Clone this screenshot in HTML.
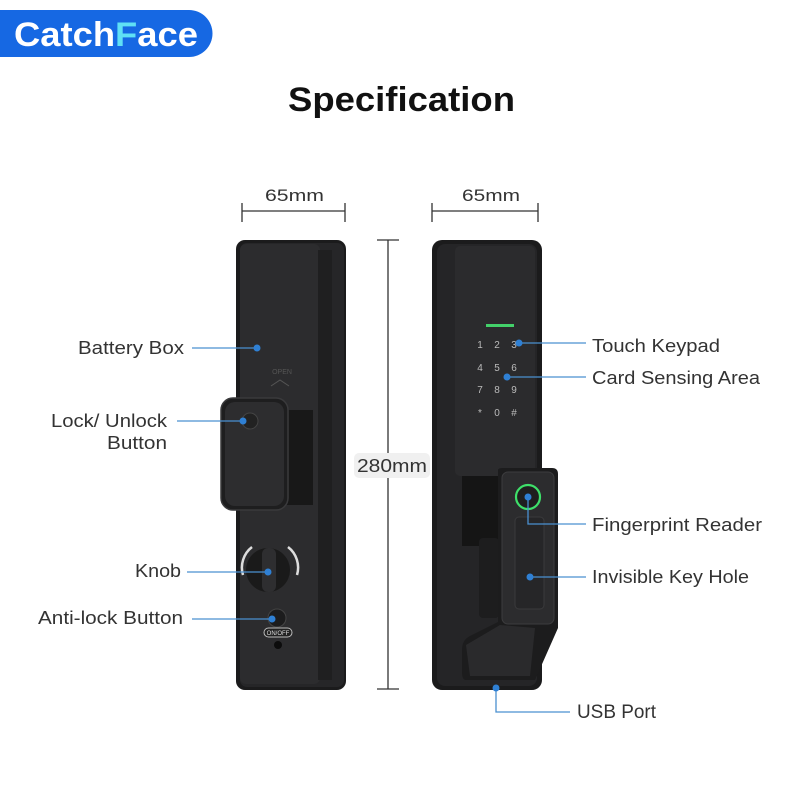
<!DOCTYPE html>
<html><head><meta charset="utf-8"><style>
html,body{margin:0;padding:0;background:#fff;}
svg{display:block;}
text{font-family:"Liberation Sans",sans-serif;}
</style></head><body>
<svg width="800" height="800" viewBox="0 0 800 800" xmlns="http://www.w3.org/2000/svg">
<rect width="800" height="800" fill="#fff"/>
<!-- logo -->
<path d="M0 10 H189 A23.5 23.5 0 0 1 189 57 H0 Z" fill="#1668e3"/>
<text x="14" y="46" font-size="34" font-weight="bold" fill="#fff" textLength="184" lengthAdjust="spacingAndGlyphs">Catch<tspan fill="#5fe0f5">F</tspan>ace</text>
<!-- title -->
<text x="288" y="111" font-size="34" font-weight="bold" fill="#111" textLength="227" lengthAdjust="spacingAndGlyphs">Specification</text>
<!-- dims -->
<g stroke="#333" stroke-width="1.3" fill="none">
<line x1="242" y1="211" x2="345" y2="211"/><line x1="242" y1="203" x2="242" y2="222"/><line x1="345" y1="203" x2="345" y2="222"/>
<line x1="432" y1="211" x2="538" y2="211"/><line x1="432" y1="203" x2="432" y2="222"/><line x1="538" y1="203" x2="538" y2="222"/>
<line x1="388" y1="240" x2="388" y2="689"/><line x1="377" y1="240" x2="399" y2="240"/><line x1="377" y1="689" x2="399" y2="689"/>
</g>
<text x="265" y="201" font-size="17" fill="#333" textLength="59" lengthAdjust="spacingAndGlyphs">65mm</text>
<text x="462" y="201" font-size="17" fill="#333" textLength="58" lengthAdjust="spacingAndGlyphs">65mm</text>
<rect x="354" y="453" width="76" height="25" rx="5" fill="#f0f0f0"/>
<text x="357" y="472" font-size="18" fill="#333" textLength="70" lengthAdjust="spacingAndGlyphs">280mm</text>

<!-- left lock -->
<rect x="236" y="240" width="110" height="450" rx="9" fill="#1b1b1c"/>
<rect x="240" y="243" width="104" height="444" rx="7" fill="#262628"/>
<rect x="240" y="244" width="80" height="440" rx="6" fill="#2c2c2e"/>
<rect x="318" y="250" width="14" height="430" fill="#1f1f20"/>
<text x="282" y="374" font-size="7" fill="#555" text-anchor="middle">OPEN</text>
<path d="M271 386 L280 380 L289 386" stroke="#555" fill="none"/>
<rect x="285" y="410" width="28" height="95" fill="#181818"/>
<rect x="221" y="398" width="67" height="112" rx="12" fill="#1e1e1f" stroke="#3a3a3c" stroke-width="1.5"/>
<rect x="225" y="402" width="59" height="104" rx="10" fill="#2d2d2f"/>
<circle cx="250" cy="421" r="8" fill="#222" stroke="#444"/>
<path d="M252 547 A26 26 0 0 0 243 575" stroke="#ddd" stroke-width="2.5" fill="none"/>
<path d="M288 547 A26 26 0 0 1 297 575" stroke="#ddd" stroke-width="2.5" fill="none"/>
<circle cx="268" cy="570" r="22" fill="#1a1a1a"/>
<rect x="262" y="548" width="14" height="44" rx="6" fill="#2e2e30"/>
<circle cx="277" cy="618" r="9" fill="#1c1c1d" stroke="#444"/>
<rect x="264" y="628" width="28" height="9" rx="4.5" fill="#222" stroke="#bbb" stroke-width="1"/>
<text x="278" y="635" font-size="6" fill="#ddd" text-anchor="middle">ON/OFF</text>
<circle cx="278" cy="645" r="4" fill="#0c0c0c"/>

<!-- right lock -->
<rect x="432" y="240" width="110" height="450" rx="10" fill="#1b1b1c"/>
<rect x="437" y="244" width="100" height="442" rx="8" fill="#252527"/>
<rect x="455" y="246" width="80" height="230" rx="5" fill="#2b2b2d"/>
<rect x="462" y="476" width="60" height="70" fill="#151515"/>
<rect x="479" y="538" width="20" height="80" rx="4" fill="#1d1d1e"/>
<rect x="486" y="324" width="28" height="3" fill="#43d16a"/>
<g font-size="10" fill="#bbb" text-anchor="middle" font-family="Liberation Mono,monospace">
<text x="480" y="348">1</text><text x="497" y="348">2</text><text x="514" y="348">3</text>
<text x="480" y="371">4</text><text x="497" y="371">5</text><text x="514" y="371">6</text>
<text x="480" y="393">7</text><text x="497" y="393">8</text><text x="514" y="393">9</text>
<text x="480" y="416">*</text><text x="497" y="416">0</text><text x="514" y="416">#</text>
</g>
<path d="M498 470 Q498 468 503 468 H552 Q558 468 558 474 V628 L535 680 H466 Q462 680 462 672 V650 Q462 640 470 636 L498 622 Z" fill="#1c1c1d"/>
<path d="M466 645 L500 625 L535 628 L530 676 H470 Z" fill="#2a2a2c"/>
<rect x="502" y="472" width="52" height="152" rx="6" fill="#2c2c2e" stroke="#3c3c3e"/>
<circle cx="528" cy="497" r="12" fill="#1f1f1f" stroke="#3ee06a" stroke-width="2.2"/>
<rect x="515" y="517" width="29" height="92" rx="4" fill="#262628" stroke="#3a3a3c"/>

<!-- callouts -->
<g stroke="#4a90d0" stroke-width="1.3" fill="none">
<line x1="192" y1="348" x2="257" y2="348"/>
<line x1="177" y1="421" x2="243" y2="421"/>
<line x1="187" y1="572" x2="268" y2="572"/>
<line x1="192" y1="619" x2="272" y2="619"/>
<line x1="519" y1="343" x2="586" y2="343"/>
<line x1="507" y1="377" x2="586" y2="377"/>
<polyline points="528,497 528,524 586,524"/>
<line x1="530" y1="577" x2="586" y2="577"/>
<polyline points="496,688 496,712 570,712"/>
</g>
<g fill="#2f80d4">
<circle cx="257" cy="348" r="3.5"/><circle cx="243" cy="421" r="3.5"/><circle cx="268" cy="572" r="3.5"/><circle cx="272" cy="619" r="3.5"/>
<circle cx="519" cy="343" r="3.5"/><circle cx="507" cy="377" r="3.5"/><circle cx="528" cy="497" r="3.5"/><circle cx="530" cy="577" r="3.5"/><circle cx="496" cy="688" r="3.5"/>
</g>
<g font-size="18" fill="#333" lengthAdjust="spacingAndGlyphs">
<text x="78" y="354" textLength="106" lengthAdjust="spacingAndGlyphs">Battery Box</text>
<text x="51" y="427" textLength="116" lengthAdjust="spacingAndGlyphs">Lock/ Unlock</text>
<text x="107" y="449" textLength="60" lengthAdjust="spacingAndGlyphs">Button</text>
<text x="135" y="577" textLength="46" lengthAdjust="spacingAndGlyphs">Knob</text>
<text x="38" y="624" textLength="145" lengthAdjust="spacingAndGlyphs">Anti-lock Button</text>
<text x="592" y="352" textLength="128" lengthAdjust="spacingAndGlyphs">Touch Keypad</text>
<text x="592" y="384" textLength="168" lengthAdjust="spacingAndGlyphs">Card Sensing Area</text>
<text x="592" y="531" textLength="170" lengthAdjust="spacingAndGlyphs">Fingerprint Reader</text>
<text x="592" y="583" textLength="157" lengthAdjust="spacingAndGlyphs">Invisible Key Hole</text>
<text x="577" y="718" font-size="19" textLength="79" lengthAdjust="spacingAndGlyphs">USB Port</text>
</g>
</svg>
</body></html>
